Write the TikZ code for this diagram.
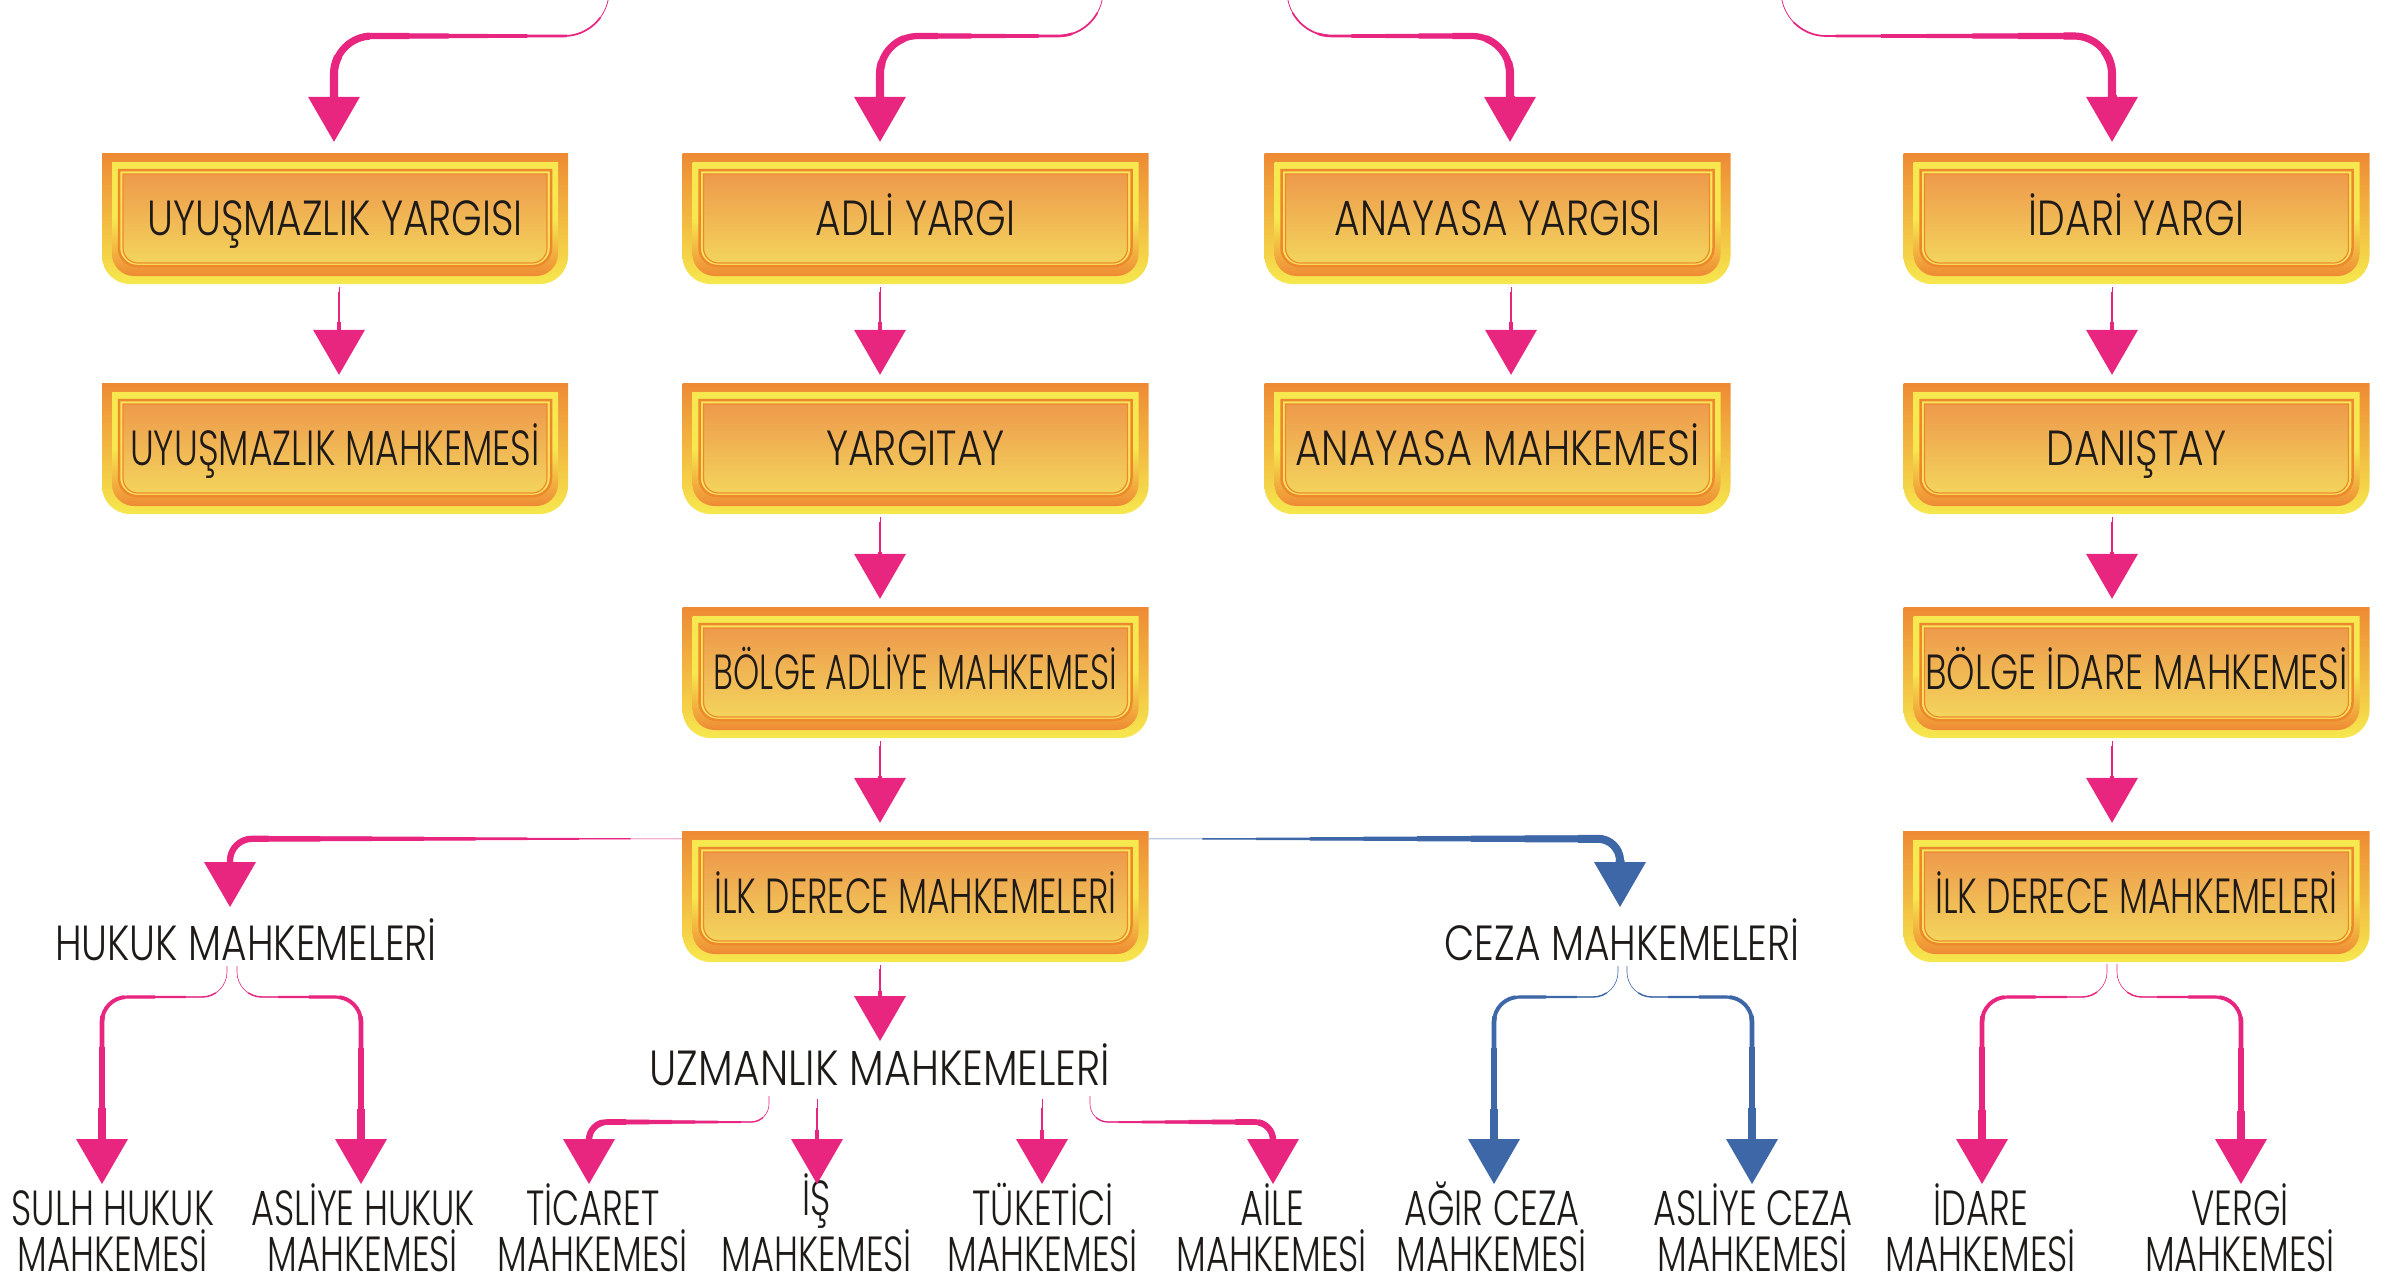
\documentclass[tikz,border=0pt]{standalone}
\usepackage{fontspec}
\usepackage{graphicx}
\setmainfont{Poppins}[UprightFont=* Light, FakeStretch=0.795]
\newfontfamily\narrowf{Poppins}[UprightFont=* Light, FakeStretch=0.715]
\usetikzlibrary{calc}
\definecolor{pinkc}{RGB}{232,38,128}
\definecolor{bluec}{RGB}{62,103,168}
\definecolor{orA}{RGB}{238,138,52}
\definecolor{yeA}{RGB}{246,232,78}
\definecolor{yeB}{RGB}{248,228,90}
\definecolor{inTop}{RGB}{238,154,76}
\definecolor{inBot}{RGB}{243,212,92}
\definecolor{lineOr}{RGB}{238,136,46}
\definecolor{txt}{RGB}{30,26,24}
\newcommand\mainf{\fontsize{49.5}{45.5}\selectfont}
\newcommand\sq[2]{\scalebox{#1}[1]{#2}}
% shape with square top corners and rounded bottom corners
\newcommand\rbshape[6]{\path[#1] (#2,#3) -- (#4,#3) -- (#4,{#5-#6}) .. controls (#4,{#5-0.4477*#6}) and ({#4-0.4477*#6},#5) .. ({#4-#6},#5) -- ({#2+#6},#5) .. controls ({#2+0.4477*#6},#5) and (#2,{#5-0.4477*#6}) .. (#2,{#5-#6}) -- cycle;}
\newcommand\jbox[4]{%
  \begin{scope}[shift={(#2,#3)}]
    \rbshape{top color=orA, bottom color=yeA}{-233}{-65.5}{233}{65.5}{28}
    \rbshape{top color=yeA, bottom color=orA, middle color=yeA}{-223}{-56.5}{223}{57.5}{22}
    \rbshape{draw=lineOr, line width=2.5bp, fill=yeB}{-216}{-48.5}{216}{47.5}{18}
    \rbshape{draw=lineOr, line width=1.2bp, top color=inTop, bottom color=inBot}{-212}{-44.5}{212}{44.5}{15}
  \end{scope}
  \node[boxtext] (#1) at (#2,#3) {#4};}
% tapered connector: colour, start width, end width, path length, path, arrow tip
\newcommand\conn[6]{%
  \foreach \k in {0,...,9}{%
    \pgfmathsetmacro\ww{#2+(#3-#2)*\k/9}%
    \pgfmathsetmacro\oo{#4*\k/9+0.01}%
    \draw[#1, line width=\ww pt, line join=round, dash pattern=on 0pt off \oo pt on 4000pt] #5;%
  }%
  \fill[#1] (#6) -- ++(-26,-45) -- ++(52,0) -- cycle;}
\begin{document}
\begin{tikzpicture}[x=1bp,y=-1bp,
  lab/.style={font=\mainf, text=txt, inner sep=0pt, anchor=base},
  botlab/.style={lab, align=center, font=\mainf\narrowf},
  boxtext/.style={font=\mainf, text=txt, inner sep=0pt, minimum width=466bp,
    minimum height=131bp, text height=33bp, text depth=0bp}]
\useasboundingbox (0,0) rectangle (2405,1287);
\clip (0,0) rectangle (2405,1287);
\fill[white] (0,0) rectangle (2405,1287);

% boxes
\jbox{uyy}{335}{218.5}{UYUŞMAZLIK YARGISI}
\jbox{ady}{915.5}{218.5}{ADLİ YARGI}
\jbox{any}{1497.5}{218.5}{ANAYASA YARGISI}
\jbox{idy}{2136.5}{218.5}{İDARİ YARGI}
\jbox{uym}{335}{448.5}{\sq{0.92}{UYUŞMAZLIK MAHKEMESİ}}
\jbox{ygt}{915.5}{448.5}{YARGITAY}
\jbox{anm}{1497.5}{448.5}{\sq{1.02}{ANAYASA MAHKEMESİ}}
\jbox{dan}{2136.5}{448.5}{DANIŞTAY}
\jbox{bam}{915.5}{672.5}{\sq{0.85}{BÖLGE ADLİYE MAHKEMESİ}}
\jbox{bim}{2136.5}{672.5}{\sq{0.92}{BÖLGE İDARE MAHKEMESİ}}
\jbox{ild}{915.5}{896.5}{\sq{0.88}{İLK DERECE MAHKEMELERİ}}
\jbox{ili}{2136.5}{896.5}{\sq{0.88}{İLK DERECE MAHKEMELERİ}}

% labels
\node[lab] (huk) at (246,960) {HUKUK MAHKEMELERİ};
\node[lab] (cez) at (1622,960) {CEZA MAHKEMELERİ};
\node[lab] (uzm) at (880,1085) {\sq{1.05}{UZMANLIK MAHKEMELERİ}};
\node[botlab] (sulh) at (113,1271) {SULH HUKUK\\MAHKEMESİ};
\node[botlab] (ahuk) at (363,1271) {ASLİYE HUKUK\\MAHKEMESİ};
\node[botlab] (tic) at (593,1271) {TİCARET\\MAHKEMESİ};
\node[botlab] (ism) at (817,1271) {İŞ\\MAHKEMESİ};
\node[botlab] (tuk) at (1043,1271) {TÜKETİCİ\\MAHKEMESİ};
\node[botlab] (aile) at (1272,1271) {AİLE\\MAHKEMESİ};
\node[botlab] (agir) at (1492,1271) {AĞIR CEZA\\MAHKEMESİ};
\node[botlab] (acez) at (1753,1271) {ASLİYE CEZA\\MAHKEMESİ};
\node[botlab] (idm) at (1981,1271) {İDARE\\MAHKEMESİ};
\node[botlab] (verg) at (2240,1271) {VERGİ\\MAHKEMESİ};

% named coordinates
\coordinate (src1) at (609,-20);
\coordinate (src2) at (1103,-20);
\coordinate (src3) at (1287,-20);
\coordinate (src4) at (1781,-20);
\coordinate (t1) at ($(uyy.north)+(-1,-11)$);
\coordinate (t2) at ($(ady.north)+(-35.5,-11)$);
\coordinate (t3) at ($(any.north)+(12.5,-11)$);
\coordinate (t4) at ($(idy.north)+(-24.5,-11)$);
\coordinate (thuk) at (230,907);
\coordinate (tcez) at (1620,907);
\coordinate (tuzm) at (880,1041);
\coordinate (tsulh) at (102,1184);
\coordinate (tahuk) at (361,1184);
\coordinate (ttic) at (589,1184);
\coordinate (tis) at (817,1184);
\coordinate (ttuk) at (1042,1184);
\coordinate (taile) at (1273,1184);
\coordinate (tagir) at (1494,1184);
\coordinate (tacez) at (1752,1184);
\coordinate (tidm) at (1982,1184);
\coordinate (tverg) at (2241,1184);

% top connectors
\conn{pinkc}{0.8}{9}{356}{(src1) [rounded corners=45bp] |- (480,36) [rounded corners=38bp] -| ($(t1)+(0,-44)$)}{t1}
\conn{pinkc}{0.8}{9}{304}{(src2) [rounded corners=45bp] |- (1000,36) [rounded corners=38bp] -| ($(t2)+(0,-44)$)}{t2}
\conn{pinkc}{0.8}{9}{304}{(src3) [rounded corners=45bp] |- (1400,36) [rounded corners=38bp] -| ($(t3)+(0,-44)$)}{t3}
\conn{pinkc}{0.8}{9}{412}{(src4) [rounded corners=45bp] |- (1950,36) [rounded corners=38bp] -| ($(t4)+(0,-44)$)}{t4}

% row to row connectors
\conn{pinkc}{0.8}{4}{45}{($(uyy.south)+(4,3)$) -- ($(uym.north)+(4,-52)$)}{$(uym.north)+(4,-8)$}
\conn{pinkc}{0.8}{4}{45}{($(ady.south)+(-35.5,3)$) -- ($(ygt.north)+(-35.5,-52)$)}{$(ygt.north)+(-35.5,-8)$}
\conn{pinkc}{0.8}{4}{45}{($(any.south)+(13.5,3)$) -- ($(anm.north)+(13.5,-52)$)}{$(anm.north)+(13.5,-8)$}
\conn{pinkc}{0.8}{4}{45}{($(idy.south)+(-24.5,3)$) -- ($(dan.north)+(-24.5,-52)$)}{$(dan.north)+(-24.5,-8)$}
\conn{pinkc}{0.8}{4}{45}{($(ygt.south)+(-35.5,3)$) -- ($(bam.north)+(-35.5,-52)$)}{$(bam.north)+(-35.5,-8)$}
\conn{pinkc}{0.8}{4}{45}{($(dan.south)+(-24.5,3)$) -- ($(bim.north)+(-24.5,-52)$)}{$(bim.north)+(-24.5,-8)$}
\conn{pinkc}{0.8}{4}{45}{($(bam.south)+(-35.5,3)$) -- ($(ild.north)+(-35.5,-52)$)}{$(ild.north)+(-35.5,-8)$}
\conn{pinkc}{0.8}{4}{45}{($(bim.south)+(-24.5,3)$) -- ($(ili.north)+(-24.5,-52)$)}{$(ili.north)+(-24.5,-8)$}
\conn{pinkc}{0.8}{4}{33}{($(ild.south)+(-35.5,3)$) -- ($(tuzm)+(0,-44)$)}{tuzm}

% İlk derece -> hukuk / ceza
\conn{pinkc}{0.6}{7}{467}{($(ild.north west)+(0,8)$) [rounded corners=22bp] -| ($(thuk)+(0,-44)$)}{thuk}
\conn{bluec}{0.6}{9}{485}{($(ild.north east)+(0,8)$) [rounded corners=22bp] -| ($(tcez)+(0,-44)$)}{tcez}

% hukuk split
\conn{pinkc}{0.6}{8}{277}{(227,966) [rounded corners=25bp] |- ($(tsulh)+(0,-187)$) -- ($(tsulh)+(0,-44)$)}{tsulh}
\conn{pinkc}{0.6}{8}{277}{(237,966) [rounded corners=25bp] |- ($(tahuk)+(0,-187)$) -- ($(tahuk)+(0,-44)$)}{tahuk}
% ceza split
\conn{bluec}{0.6}{8}{277}{(1618,966) [rounded corners=25bp] |- ($(tagir)+(0,-187)$) -- ($(tagir)+(0,-44)$)}{tagir}
\conn{bluec}{0.6}{8}{277}{(1627,966) [rounded corners=25bp] |- ($(tacez)+(0,-187)$) -- ($(tacez)+(0,-44)$)}{tacez}
% idari split
\conn{pinkc}{0.6}{8}{281}{($(ili.south)+(-29.5,2)$) [rounded corners=25bp] |- ($(tidm)+(0,-187)$) -- ($(tidm)+(0,-44)$)}{tidm}
\conn{pinkc}{0.6}{8}{281}{($(ili.south)+(-19.5,2)$) [rounded corners=25bp] |- ($(tverg)+(0,-187)$) -- ($(tverg)+(0,-44)$)}{tverg}
% uzmanlik branches
\conn{pinkc}{0.6}{7}{208}{(769,1096) [rounded corners=18bp] |- ($(ttic)+(0,-62)$) -- ($(ttic)+(0,-44)$)}{ttic}
\conn{pinkc}{0.6}{4}{40}{(817,1099) -- ($(tis)+(0,-44)$)}{tis}
\conn{pinkc}{0.6}{4}{40}{(1042,1099) -- ($(ttuk)+(0,-44)$)}{ttuk}
\conn{pinkc}{0.6}{7}{211}{(1090,1096) [rounded corners=18bp] |- ($(taile)+(0,-62)$) -- ($(taile)+(0,-44)$)}{taile}
\end{tikzpicture}
\end{document}
